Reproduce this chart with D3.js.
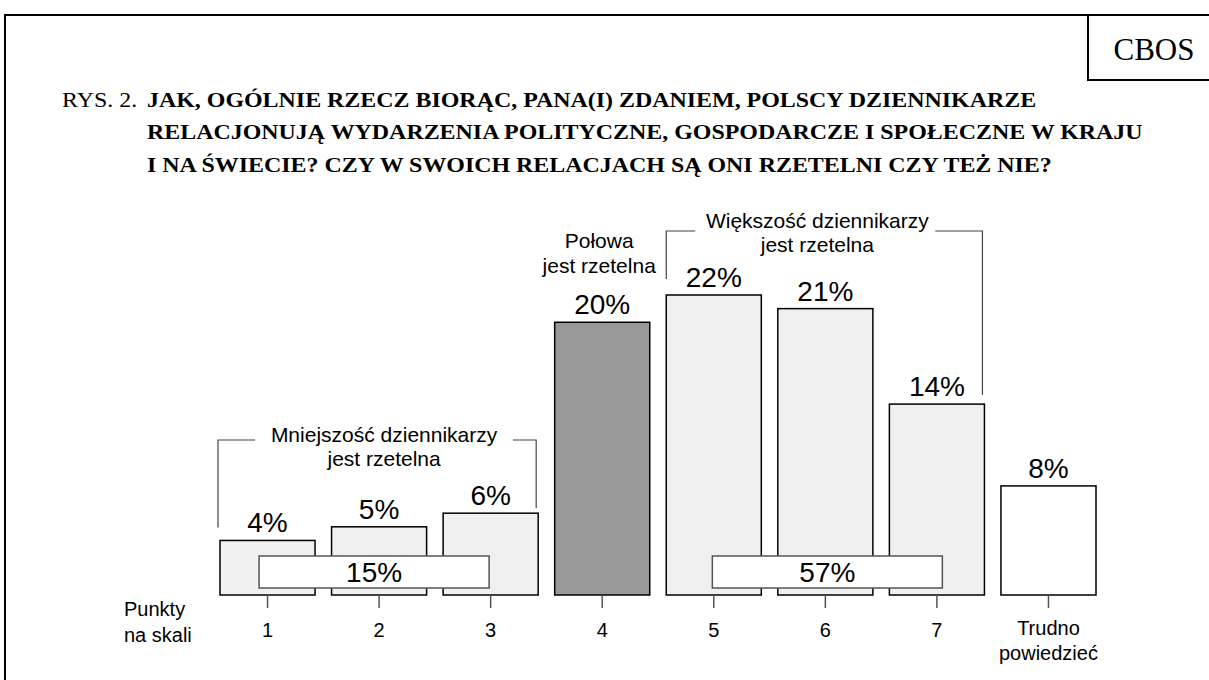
<!DOCTYPE html>
<html>
<head>
<meta charset="utf-8">
<script src="https://cdn.jsdelivr.net/npm/d3@7"></script>
<style>
  body{margin:0;background:#fff;}
  svg{display:block;}
</style>
</head>
<body>
<svg width="1209" height="680"></svg>
<script>
// dane z wykresu
const categories = ['1','2','3','4','5','6','7','Trudno\npowiedzieć'];
const values = [4, 5, 6, 20, 22, 21, 14, 8];
const fills = ['#f0f0f0','#f0f0f0','#f0f0f0','#999999','#f0f0f0','#f0f0f0','#f0f0f0','#ffffff'];
const titleLines = [
  'JAK, OGÓLNIE RZECZ BIORĄC, PANA(I) ZDANIEM, POLSCY DZIENNIKARZE',
  'RELACJONUJĄ WYDARZENIA POLITYCZNE, GOSPODARCZE I SPOŁECZNE W KRAJU',
  'I NA ŚWIECIE? CZY W SWOICH RELACJACH SĄ ONI RZETELNI CZY TEŻ NIE?'
];
const groupLabels = [['Mniejszość dziennikarzy','jest rzetelna'], ['Większość dziennikarzy','jest rzetelna']];
const groupRange = [[0, 2], [4, 6]];
const groupTotals = ['15%', '57%'];
const middleLabel = ['Połowa', 'jest rzetelna'];
const axisTitle = ['Punkty', 'na skali'];

const svg = d3.select('svg');
const sans = 'Arial, "Liberation Sans", sans-serif';
const serif = '"Times New Roman", "Liberation Serif", serif';

// ramka
svg.append('rect')
  .attr('x', 5).attr('y', 15).attr('width', 1250).attr('height', 720)
  .attr('fill', 'none').attr('stroke', '#000').attr('stroke-width', 2);
svg.append('rect')
  .attr('x', 1088).attr('y', 15).attr('width', 200).attr('height', 65)
  .attr('fill', 'none').attr('stroke', '#000').attr('stroke-width', 2);
svg.append('text')
  .attr('x', 1154).attr('y', 60).attr('text-anchor', 'middle')
  .style('font-family', serif).style('font-size', '31px')
  .text('CBOS');

// tytul (font w oryginale jest rozciagniety w poziomie)
const sx = 1.14;
const title = svg.append('g').attr('transform', `scale(${sx},1)`);
title.append('text')
  .attr('x', 62 / sx).attr('y', 107)
  .style('font-family', serif).style('font-size', '21px')
  .text('RYS. 2.');
title.selectAll('.title').data(titleLines).join('text')
  .attr('class', 'title')
  .attr('x', 147 / sx).attr('y', (d, i) => 107 + i * 32.5)
  .style('font-family', serif).style('font-size', '21px').style('font-weight', 'bold')
  .text(d => d);

// skale
const x = d3.scaleBand()
  .domain(d3.range(values.length))
  .range([220, 1096])
  .paddingInner(0.148)
  .paddingOuter(0);
const y = d3.scaleLinear().domain([0, 22]).range([595, 295]);
const cx = i => x(i) + x.bandwidth() / 2;

// slupki
svg.selectAll('.bar').data(values).join('rect')
  .attr('class', 'bar')
  .attr('x', (d, i) => x(i))
  .attr('y', d => y(d))
  .attr('width', x.bandwidth())
  .attr('height', d => y(0) - y(d))
  .attr('fill', (d, i) => fills[i])
  .attr('stroke', '#000').attr('stroke-width', 1.5);

svg.selectAll('.val').data(values).join('text')
  .attr('class', 'val')
  .attr('x', (d, i) => cx(i))
  .attr('y', d => y(d) - 8)
  .attr('text-anchor', 'middle')
  .style('font-family', sans).style('font-size', '28px')
  .text(d => d + '%');

// os x
const axis = svg.append('g')
  .attr('transform', `translate(0,${y(0)})`)
  .call(d3.axisBottom(x).tickSize(13).tickPadding(0).tickFormat(''));
axis.select('.domain').remove();
axis.selectAll('.tick line').attr('stroke', '#555').attr('stroke-width', 1.5);

svg.selectAll('.cat').data(categories).join('text')
  .attr('class', 'cat')
  .attr('text-anchor', 'middle')
  .style('font-family', sans).style('font-size', '20px')
  .each(function (d, i) {
    const lines = d.split('\n');
    d3.select(this).selectAll('tspan').data(lines).join('tspan')
      .attr('x', cx(i))
      .attr('y', (l, j) => (lines.length > 1 ? 635 : 637) + j * 25)
      .text(l => l);
  });

svg.selectAll('.axt').data(axisTitle).join('text')
  .attr('class', 'axt')
  .attr('x', 124).attr('y', (d, i) => 616 + i * 26)
  .style('font-family', sans).style('font-size', '20px')
  .text(d => d);

// nawiasy grup
const bracketTop = [440, 231];
groupRange.forEach((r, g) => {
  const x0 = x(r[0]) - (g === 0 ? 2 : 0);
  const x1 = x(r[1]) + x.bandwidth() - 2;
  const top = bracketTop[g];
  const mid = (x(r[0]) + x(r[1]) + x.bandwidth()) / 2 + (g === 0 ? 5 : -8);
  const gap = g === 0 ? [37, 258] : [29, 240];
  const yl = y(values[r[0]]) - (g === 0 ? 13 : 16);
  const yr = y(values[r[1]]) - (g === 0 ? 5 : 9);
  const line = d3.line();
  svg.append('path')
    .attr('d', line([[x0, yl], [x0, top], [x0 + gap[0], top]]))
    .attr('fill', 'none').attr('stroke', '#444').attr('stroke-width', 1.2);
  svg.append('path')
    .attr('d', line([[x0 + gap[0] + gap[1], top], [x1, top], [x1, yr]]))
    .attr('fill', 'none').attr('stroke', '#444').attr('stroke-width', 1.2);
  svg.selectAll('.gl' + g).data(groupLabels[g]).join('text')
    .attr('x', mid).attr('y', (d, i) => top + (g === 0 ? 2 : -3) + i * 24)
    .attr('text-anchor', 'middle')
    .style('font-family', sans).style('font-size', '21px')
    .text(d => d);

  // suma grupy
  const mc = cx(r[0] + 1) + (g === 0 ? -5 : 2);
  svg.append('rect')
    .attr('x', mc - 115).attr('y', 556).attr('width', 230).attr('height', 32)
    .attr('fill', '#fff').attr('stroke', '#555').attr('stroke-width', 1.5);
  svg.append('text')
    .attr('x', mc).attr('y', 582).attr('text-anchor', 'middle')
    .style('font-family', sans).style('font-size', '28px')
    .text(groupTotals[g]);
});

svg.selectAll('.mid').data(middleLabel).join('text')
  .attr('class', 'mid')
  .attr('x', cx(3) - 3).attr('y', (d, i) => 248 + i * 25)
  .attr('text-anchor', 'middle')
  .style('font-family', sans).style('font-size', '21px')
  .text(d => d);
</script>
</body>
</html>
